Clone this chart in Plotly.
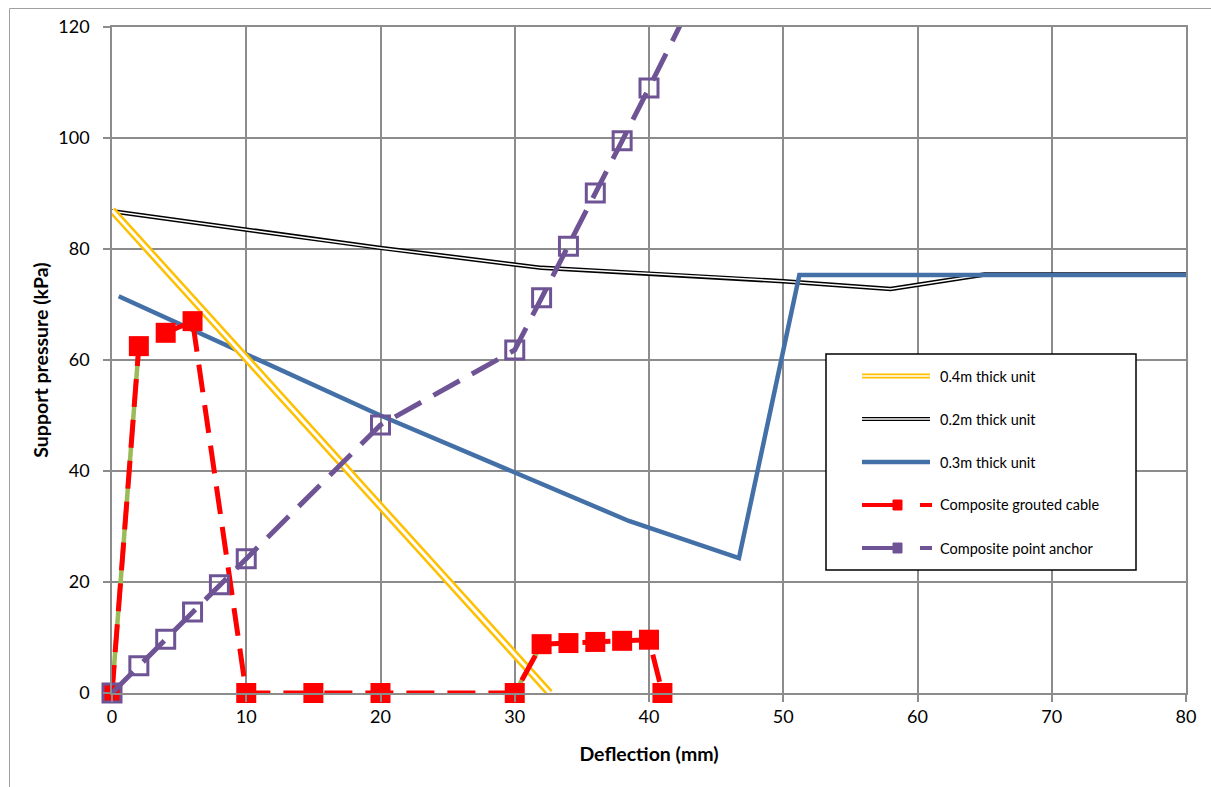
import plotly.graph_objects as go

# Support pressure vs deflection data (mm, kPa)
thick04_x = [0, 32.6]
thick04_y = [87.0, 0]

thick02_x = [0, 10, 20, 32, 40, 50, 58, 65, 80]
thick02_y = [86.8, 83.5, 80.2, 76.6, 75.6, 74.2, 72.8, 75.4, 75.4]

thick03_x = [0.5, 20, 38.5, 46.7, 51.2, 80]
thick03_y = [71.5, 50.0, 31.0, 24.3, 75.3, 75.3]

cable_x = [0, 2, 4, 6, 10, 15, 20, 30, 32, 34, 36, 38, 40, 41]
cable_y = [0, 62.5, 64.9, 67.0, 0, 0, 0, 0, 8.8, 9.0, 9.2, 9.4, 9.6, 0]

# solid green segments underneath the cable's rising sections
cable_rise_x = [0, 2, None, 30, 32]
cable_rise_y = [0, 62.5, None, 0, 8.8]

anchor_x = [0, 2, 4, 6, 8, 10, 20, 30, 32, 34, 36, 38, 40, 44]
anchor_y = [0, 4.9, 9.7, 14.6, 19.5, 24.2, 48.3, 61.8, 71.2, 80.5, 90.1, 99.5, 109.0, 128.5]

legend_labels = ["0.4m thick unit", "0.2m thick unit", "0.3m thick unit",
                 "Composite grouted cable", "Composite point anchor"]

YELLOW = "#FFC000"
BLUE = "#4470A8"
RED = "#FF0000"
GREEN = "#9BBB59"
PURPLE = "#6F5495"
GRID = "#8C8C8C"
FONT = "Lato"

W, H = 1211, 787
ML, MR, MT, MB = 112, 25, 27, 94
PW, PH = W - ML - MR, H - MT - MB


def px_x(px):
    return (px - ML) / PW


def px_y(py):
    return (H - MB - py) / PH


fig = go.Figure()

# 0.2m unit: black double line
fig.add_trace(go.Scatter(x=thick02_x, y=thick02_y, mode="lines",
                         line=dict(color="black", width=4.5), showlegend=False, hoverinfo="skip"))
fig.add_trace(go.Scatter(x=thick02_x, y=thick02_y, mode="lines",
                         line=dict(color="white", width=1.5), showlegend=False, name=legend_labels[1]))

# 0.3m unit
fig.add_trace(go.Scatter(x=thick03_x, y=thick03_y, mode="lines",
                         line=dict(color=BLUE, width=4.5), showlegend=False, name=legend_labels[2]))

# 0.4m unit: yellow double line
fig.add_trace(go.Scatter(x=thick04_x, y=thick04_y, mode="lines",
                         line=dict(color=YELLOW, width=8), showlegend=False, hoverinfo="skip"))
fig.add_trace(go.Scatter(x=thick04_x, y=thick04_y, mode="lines",
                         line=dict(color="white", width=3), showlegend=False, name=legend_labels[0]))

# grouted cable
fig.add_trace(go.Scatter(x=cable_rise_x, y=cable_rise_y, mode="lines",
                         line=dict(color=GREEN, width=4.5), showlegend=False, hoverinfo="skip"))
fig.add_trace(go.Scatter(x=cable_x, y=cable_y, mode="lines+markers",
                         line=dict(color=RED, width=5, dash="28px,13px"),
                         marker=dict(symbol="square", size=20, color=RED),
                         cliponaxis=False, showlegend=False, name=legend_labels[3]))

# point anchor
fig.add_trace(go.Scatter(x=anchor_x, y=anchor_y, mode="lines+markers",
                         line=dict(color=PURPLE, width=5, dash="30px,14px"),
                         marker=dict(symbol="square-open", size=18, color=PURPLE,
                                     line=dict(width=3, color=PURPLE)),
                         cliponaxis=False, showlegend=False, name=legend_labels[4]))

# legend drawn as a framed box
shapes = []
annotations = []
shapes.append(dict(type="rect", xref="paper", yref="paper",
                   x0=px_x(826), x1=px_x(1136), y0=px_y(570), y1=px_y(354),
                   line=dict(color="black", width=1.5), fillcolor="white", layer="above"))

entry_y = [376, 419, 462, 505, 548]
sx0, sx1, tx = 862, 930, 938
for i, lbl in enumerate(legend_labels):
    yy = px_y(entry_y[i])
    if i == 0:
        shapes.append(dict(type="line", xref="paper", yref="paper", x0=px_x(sx0), x1=px_x(sx1),
                           y0=yy, y1=yy, line=dict(color=YELLOW, width=5), layer="above"))
        shapes.append(dict(type="line", xref="paper", yref="paper", x0=px_x(sx0), x1=px_x(sx1),
                           y0=yy, y1=yy, line=dict(color="white", width=1.5), layer="above"))
    elif i == 1:
        shapes.append(dict(type="line", xref="paper", yref="paper", x0=px_x(sx0), x1=px_x(sx1),
                           y0=yy, y1=yy, line=dict(color="black", width=4), layer="above"))
        shapes.append(dict(type="line", xref="paper", yref="paper", x0=px_x(sx0), x1=px_x(sx1),
                           y0=yy, y1=yy, line=dict(color="white", width=1.5), layer="above"))
    elif i == 2:
        shapes.append(dict(type="line", xref="paper", yref="paper", x0=px_x(sx0), x1=px_x(sx1),
                           y0=yy, y1=yy, line=dict(color=BLUE, width=4.5), layer="above"))
    else:
        c = RED if i == 3 else PURPLE
        shapes.append(dict(type="line", xref="paper", yref="paper", x0=px_x(sx0), x1=px_x(896),
                           y0=yy, y1=yy, line=dict(color=c, width=4), layer="above"))
        shapes.append(dict(type="rect", xref="paper", yref="paper", x0=px_x(893), x1=px_x(902),
                           y0=px_y(entry_y[i] + 5), y1=px_y(entry_y[i] - 5),
                           line=dict(color=c, width=1), fillcolor=c, layer="above"))
        shapes.append(dict(type="line", xref="paper", yref="paper", x0=px_x(920), x1=px_x(932),
                           y0=yy, y1=yy, line=dict(color=c, width=4), layer="above"))
    annotations.append(dict(text=lbl, xref="paper", yref="paper", x=px_x(tx), y=yy,
                            xanchor="left", yanchor="middle", showarrow=False,
                            font=dict(family=FONT, size=14.5, color="black")))

# outer chart frame
shapes.append(dict(type="rect", xref="paper", yref="paper",
                   x0=px_x(9.5), x1=px_x(W + 20), y0=px_y(H + 20), y1=px_y(8.5),
                   line=dict(color="#A0A0A0", width=1), layer="below"))

axis_common = dict(showgrid=True, gridcolor=GRID, gridwidth=1.5,
                   showline=True, linecolor=GRID, linewidth=1.5, mirror=True,
                   ticks="outside", tickcolor=GRID, tickwidth=1.5, ticklen=7,
                   zeroline=False, tickfont=dict(family=FONT, size=18, color="black"))

fig.update_layout(
    width=W, height=H,
    margin=dict(l=ML, r=MR, t=MT, b=MB),
    paper_bgcolor="white", plot_bgcolor="white",
    showlegend=False,
    shapes=shapes, annotations=annotations,
    xaxis=dict(range=[0, 80], tickvals=list(range(0, 81, 10)),
               title=dict(text="<b>Deflection (mm)</b>", font=dict(family=FONT, size=19.5, color="black"), standoff=21),
               **axis_common),
    yaxis=dict(range=[0, 120], tickvals=list(range(0, 121, 20)), ticklabelstandoff=10,
               title=dict(text="<b>Support pressure (kPa)</b>", font=dict(family=FONT, size=19.5, color="black"), standoff=4),
               **axis_common),
)

fig.write_html("out.html")
